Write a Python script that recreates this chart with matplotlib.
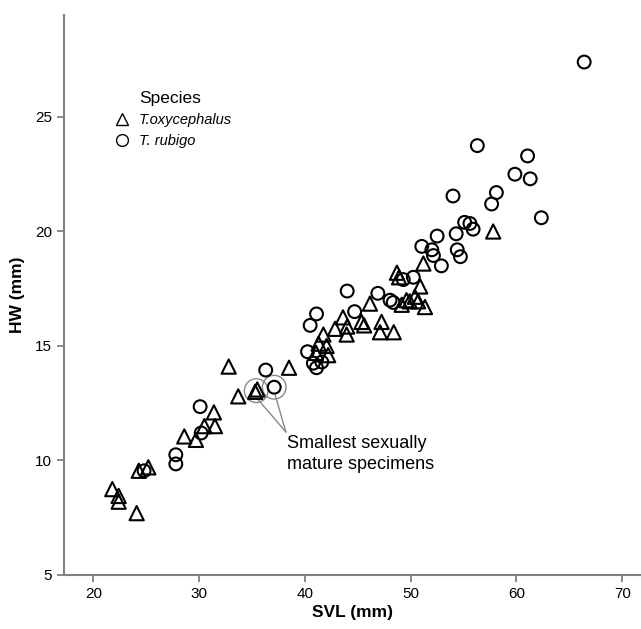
import matplotlib.pyplot as plt
from matplotlib.lines import Line2D

plt.rcParams['font.family'] = ['Liberation Sans', 'DejaVu Sans']

# T. oxycephalus (triangles)
oxy_svl = [21.8, 22.4, 22.4, 24.1, 24.3, 25.2, 28.6, 29.7, 30.5, 31.4, 31.5, 32.8, 33.7,
           35.3, 35.5, 38.5, 41.05, 41.3, 42.05, 42.2, 41.75, 42.85, 43.6, 44.0, 43.95,
           45.35, 45.6, 46.15, 47.25, 47.1, 48.4, 48.7, 48.9, 49.15, 49.6, 49.9, 50.4,
           50.7, 51.35, 50.9, 51.2, 57.8]
oxy_hw = [8.75, 8.45, 8.2, 7.7, 9.55, 9.7, 11.05, 10.9, 11.5, 12.1, 11.5, 14.1, 12.8,
          13.0, 13.1, 14.05, 14.7, 15.1, 15.0, 14.6, 15.5, 15.75, 16.25, 15.85, 15.5,
          16.05, 15.9, 16.85, 16.05, 15.6, 15.6, 18.2, 18.0, 16.8, 17.0, 16.95, 17.15,
          16.95, 16.7, 17.6, 18.6, 20.0]

# T. rubigo (circles)
rub_svl = [24.8, 27.8, 27.8, 30.1, 30.2, 36.3, 37.1, 40.25, 40.5, 41.1, 40.8, 41.6, 41.1,
           44.0, 44.7, 46.9, 48.05, 48.35, 49.3, 50.25, 51.05, 52.0, 52.15, 52.5, 52.9,
           54.0, 54.3, 54.4, 54.7, 55.1, 55.6, 55.9, 56.3, 57.65, 58.1, 59.85, 61.05,
           61.3, 62.35, 66.4]
rub_hw = [9.55, 10.25, 9.85, 12.35, 11.2, 13.95, 13.2, 14.75, 15.9, 16.4, 14.25, 14.3, 14.05,
          17.4, 16.5, 17.3, 17.0, 16.9, 17.9, 18.0, 19.35, 19.2, 18.95, 19.8, 18.5,
          21.55, 19.9, 19.2, 18.9, 20.4, 20.35, 20.1, 23.75, 21.2, 21.7, 22.5, 23.3,
          22.3, 20.6, 27.4]

# smallest sexually mature specimens
mature_svl = [35.4, 37.1]
mature_hw = [13.05, 13.2]

fig = plt.figure(figsize=(6.41, 6.29), dpi=100)
ax = fig.add_axes([0.0998, 0.0859, 0.9002, 0.8901])

ax.scatter(oxy_svl, oxy_hw, marker='^', s=105, facecolors='none', edgecolors='black', linewidths=1.5, zorder=3)
ax.scatter(rub_svl, rub_hw, marker='o', s=85, facecolors='none', edgecolors='black', linewidths=1.5, zorder=3)

# grey rings and pointer lines
ax.scatter(mature_svl, mature_hw, marker='o', s=290, facecolors='none', edgecolors='#888888', linewidths=1.0, zorder=2)
for sx, sy in zip(mature_svl, mature_hw):
    ax.plot([sx + 0.1, 38.2], [sy - 0.35, 11.25], color='#888888', lw=1.0, zorder=2)
ax.text(38.3, 11.1, 'Smallest sexually\nmature specimens', fontsize=13, va='top', ha='left', linespacing=1.3)

ax.set_xlim(17.23, 71.77)
ax.set_ylim(5, 29.45)
ax.set_xticks([20, 30, 40, 50, 60, 70])
ax.set_yticks([5, 10, 15, 20, 25])

for side in ['top', 'right']:
    ax.spines[side].set_visible(False)
for side in ['left', 'bottom']:
    ax.spines[side].set_color('#808080')
    ax.spines[side].set_linewidth(1.5)
ax.tick_params(colors='#808080', labelcolor='black', labelsize=11, length=5, width=1.3)

ax.set_xlabel('SVL (mm)', fontsize=12.5, fontweight='bold', labelpad=3)
ax.set_ylabel('HW (mm)', fontsize=12.5, fontweight='bold', labelpad=7)

handles = [
    Line2D([], [], marker='^', ls='none', mfc='none', mec='black', ms=9, mew=1.0, label='T.oxycephalus'),
    Line2D([], [], marker='o', ls='none', mfc='none', mec='black', ms=8.5, mew=1.0, label='T. rubigo'),
]
leg = ax.legend(handles=handles, title='Species', loc='upper left', bbox_to_anchor=(0.066, 0.875),
                frameon=False, handletextpad=0.1, labelspacing=0.5, borderaxespad=0,
                prop={'style': 'italic', 'size': 10.5}, title_fontsize=12.5)

fig.savefig('out.png', dpi=100)
